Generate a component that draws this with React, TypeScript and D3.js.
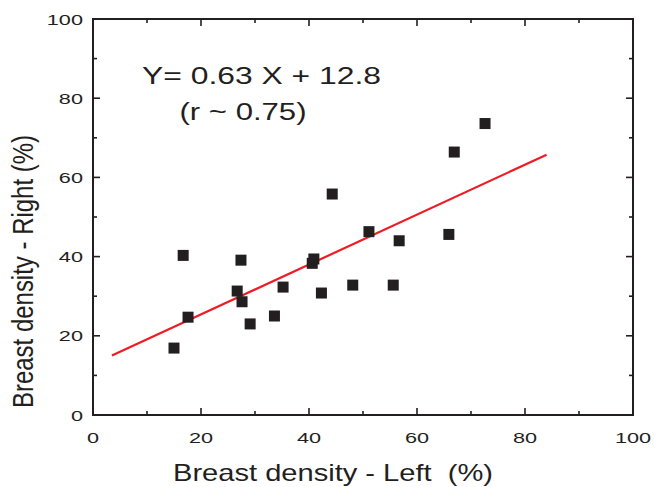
import React, { useEffect, useRef } from 'react';
import * as d3 from 'd3';

// left / right breast density (%) per subject
const leftDensity = [15.0, 16.7, 17.6, 26.7, 27.4, 27.6, 29.1, 33.6, 35.2, 40.6, 40.9, 42.3, 44.3, 48.1, 51.1, 55.6, 56.7, 65.9, 66.9, 72.6];
const rightDensity = [16.9, 40.3, 24.7, 31.3, 39.1, 28.6, 23.0, 25.0, 32.3, 38.3, 39.4, 30.8, 55.8, 32.8, 46.3, 32.8, 44.0, 45.6, 66.4, 73.6];

const slope = 0.63;
const intercept = 12.8;
const fitRange = [3.5, 84];

const majorTicks = [0, 20, 40, 60, 80, 100];
const minorTicks = [10, 30, 50, 70, 90];

const W = 655;
const H = 487;
const margin = { top: 19, right: 22, bottom: 72, left: 93 };

const App = () => {
  const ref = useRef<SVGSVGElement>(null);

  useEffect(() => {
    const svg = d3.select(ref.current);
    svg.selectAll('*').remove();

    const x = d3.scaleLinear().domain([0, 100]).range([margin.left, W - margin.right]);
    const y = d3.scaleLinear().domain([0, 100]).range([H - margin.bottom, margin.top]);
    const ink = '#231f20';
    const font = 'Liberation Sans, Arial, Helvetica, sans-serif';
    const stretch = 1.4; // glyphs in the original are wide

    // fit line
    svg
      .append('line')
      .attr('x1', x(fitRange[0]))
      .attr('y1', y(slope * fitRange[0] + intercept))
      .attr('x2', x(fitRange[1]))
      .attr('y2', y(slope * fitRange[1] + intercept))
      .style('stroke', '#ee1c24')
      .style('stroke-width', 2.2);

    // points
    const s = 11;
    svg
      .append('g')
      .selectAll('rect')
      .data(leftDensity.map((d, i) => [d, rightDensity[i]]))
      .join('rect')
      .attr('x', (d) => x(d[0]) - s / 2)
      .attr('y', (d) => y(d[1]) - s / 2)
      .attr('width', s)
      .attr('height', s)
      .attr('fill', ink);

    // frame
    svg
      .append('rect')
      .attr('x', x(0))
      .attr('y', y(100))
      .attr('width', x(100) - x(0))
      .attr('height', y(0) - y(100))
      .attr('fill', 'none')
      .attr('stroke', ink)
      .attr('stroke-width', 2);

    const addTicks = (vals: number[], len: number) => {
      const g = svg.append('g').attr('stroke', ink).attr('stroke-width', 1.6);
      vals.forEach((v) => {
        g.append('line').attr('x1', x(v)).attr('x2', x(v)).attr('y1', y(0)).attr('y2', y(0) - len);
        g.append('line').attr('x1', x(v)).attr('x2', x(v)).attr('y1', y(100)).attr('y2', y(100) + len);
        g.append('line').attr('y1', y(v)).attr('y2', y(v)).attr('x1', x(0)).attr('x2', x(0) + len);
        g.append('line').attr('y1', y(v)).attr('y2', y(v)).attr('x1', x(100)).attr('x2', x(100) - len);
      });
    };
    addTicks(majorTicks, 7);
    addTicks(minorTicks, 4);

    // tick labels
    svg
      .append('g')
      .selectAll('text')
      .data(majorTicks)
      .join('text')
      .attr('transform', (d) => `translate(${x(d)},${y(0) + 28}) scale(${stretch},1)`)
      .attr('text-anchor', 'middle')
      .style('font-family', font)
      .style('font-size', '15.5px')
      .attr('fill', ink)
      .text((d) => d);

    svg
      .append('g')
      .selectAll('text')
      .data(majorTicks)
      .join('text')
      .attr('transform', (d) => `translate(${x(0) - 10},${y(d) + 5.5}) scale(${stretch},1)`)
      .attr('text-anchor', 'end')
      .style('font-family', font)
      .style('font-size', '15.5px')
      .attr('fill', ink)
      .text((d) => d);

    // axis titles
    svg
      .append('text')
      .attr('x', 173)
      .attr('y', 481)
      .attr('textLength', 320)
      .attr('lengthAdjust', 'spacingAndGlyphs')
      .style('font-family', font)
      .style('font-size', '24px')
      .style('white-space', 'pre')
      .attr('fill', ink)
      .text('Breast density - Left  (%)');

    svg
      .append('text')
      .attr('transform', `translate(33, 408) scale(1.2,1) rotate(-90)`)
      .attr('textLength', 273)
      .attr('lengthAdjust', 'spacingAndGlyphs')
      .style('font-family', font)
      .style('font-size', '25px')
      .attr('fill', ink)
      .text('Breast density - Right (%)');

    // annotation
    svg
      .append('text')
      .attr('x', 142)
      .attr('y', 84)
      .attr('textLength', 239)
      .attr('lengthAdjust', 'spacingAndGlyphs')
      .style('font-family', font)
      .style('font-size', '23.5px')
      .attr('fill', ink)
      .text('Y= 0.63 X + 12.8');

    svg
      .append('text')
      .attr('x', 179.5)
      .attr('y', 119.5)
      .attr('textLength', 127)
      .attr('lengthAdjust', 'spacingAndGlyphs')
      .style('font-family', font)
      .style('font-size', '23.5px')
      .attr('fill', ink)
      .text('(r ~ 0.75)');
  }, []);

  return (
    <svg
      ref={ref}
      width={W}
      height={H}
      style={{ position: 'absolute', left: 0, top: 0, background: '#fff' }}
    ></svg>
  );
};

export default App;
